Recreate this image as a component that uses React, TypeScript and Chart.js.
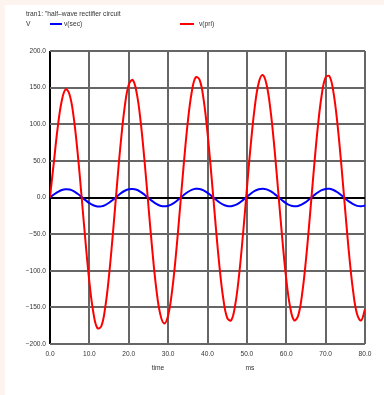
import { useEffect, useRef } from 'react';
import { Chart, registerables } from 'chart.js';

Chart.register(...registerables);

const TITLE = 'tran1: "half\u2013wave rectifier circuit';
const Y_UNIT = 'V';
const X_TITLE = 'time';
const X_UNIT = 'ms';
const SERIES_NAMES = ['v(sec)', 'v(pri)'];

const TIME_MS = [
  0, 1, 2, 3, 4, 5, 6, 7, 8, 9, 10, 11, 12, 13, 14, 15, 16, 17, 18, 19, 20,
  21, 22, 23, 24, 25, 26, 27, 28, 29, 30, 31, 32, 33, 34, 35, 36, 37, 38, 39, 40,
  41, 42, 43, 44, 45, 46, 47, 48, 49, 50, 51, 52, 53, 54, 55, 56, 57, 58, 59, 60,
  61, 62, 63, 64, 65, 66, 67, 68, 69, 70, 71, 72, 73, 74, 75, 76, 77, 78, 79, 80,
];

const V_PRI = [
  0, 49.3, 97.3, 132.5, 147.8, 140.0, 110.0, 62.0, 2.7, -59.3, -115.2,
  -156.7, -178.2, -176.1, -150.9, -106.1, -47.5, 16.3, 76.5, 124.6, 153.9,
  160.3, 143.1, 104.6, 50.5, -11.6, -72.9, -124.6, -159.2, -172.0, -161.0,
  -127.8, -77.1, -15.8, 47.2, 103.1, 144.0, 164.1, 160.7, 134.2, 88.4,
  29.8, -33.3, -91.9, -137.8, -164.3, -167.8, -147.8, -106.9, -51.2, 11.7,
  72.8, 123.4, 156.4, 167.2, 154.2, 119.3, 67.3, 5.8, -56.7, -111.2,
  -150.0, -167.7, -161.7, -132.9, -85.3, -25.7, 37.5, 95.3, 139.6, 164.1,
  165.3, 143.1, 100.6, 43.8, -19.2, -79.5, -128.6, -159.5, -167.9, -152.5,
];

const V_SEC = [
  0, 4.1, 7.7, 10.3, 11.4, 10.8, 8.6, 5.1, 0.9, -3.6, -7.6,
  -10.6, -12.2, -12.1, -10.3, -7.2, -3.0, 1.5, 5.8, 9.2, 11.3,
  11.7, 10.5, 7.7, 3.8, -0.6, -5.0, -8.7, -11.2, -12.1, -11.3,
  -9.0, -5.4, -1.0, 3.5, 7.5, 10.4, 11.8, 11.6, 9.7, 6.4,
  2.2, -2.3, -6.5, -9.8, -11.7, -11.9, -10.5, -7.6, -3.6, 0.9,
  5.2, 8.9, 11.2, 12.0, 11.1, 8.6, 4.9, 0.5, -4.0, -7.9,
  -10.7, -12.0, -11.5, -9.5, -6.1, -1.8, 2.7, 6.8, 10.0, 11.7,
  11.8, 10.2, 7.2, 3.1, -1.4, -5.7, -9.2, -11.4, -12.0, -10.9,
];

const X_TICKS = [0, 10, 20, 30, 40, 50, 60, 70, 80];
const Y_TICKS = [-200, -150, -100, -50, 0, 50, 100, 150, 200];

const FONT = '"Liberation Sans", Arial, Helvetica, sans-serif';
const PAGE_BG = 'rgb(253,244,240)';
const GRID = '#666666';
const TEXT = '#333333';

const fmt = (v: number) => {
  const s = Math.abs(v).toFixed(1);
  return v < 0 ? '\u2212' + s : s;
};

export default function App() {
  const ref = useRef<HTMLCanvasElement>(null);

  useEffect(() => {
    document.body.style.margin = '0';
    document.body.style.background = PAGE_BG;
    const canvas = ref.current;
    if (!canvas) return;
    const gridColor = (ctx: any) => (ctx.tick && ctx.tick.value === 0 ? '#000000' : GRID);
    const chart = new Chart(canvas, {
      type: 'line',
      data: {
        datasets: [
          {
            label: SERIES_NAMES[0],
            data: TIME_MS.map((t, i) => ({ x: t, y: V_SEC[i] })),
            borderColor: '#0000ff',
            borderWidth: 2,
            pointRadius: 0,
            tension: 0.4,
            fill: false,
            order: 1,
          },
          {
            label: SERIES_NAMES[1],
            data: TIME_MS.map((t, i) => ({ x: t, y: V_PRI[i] })),
            borderColor: '#ff0000',
            borderWidth: 2,
            pointRadius: 0,
            tension: 0.4,
            fill: false,
            order: 0,
          },
        ],
      },
      options: {
        responsive: false,
        animation: false,
        events: [],
        layout: { padding: { left: 0, top: 51, right: 19, bottom: 0 } },
        plugins: {
          legend: { display: false },
          title: { display: false },
          tooltip: { enabled: false },
        },
        scales: {
          x: {
            type: 'linear',
            min: 0,
            max: 80,
            afterBuildTicks: (s: any) => {
              s.ticks = X_TICKS.map((v) => ({ value: v }));
            },
            afterFit: (s: any) => {
              s.height = 51;
            },
            grid: { color: gridColor, lineWidth: 2, drawTicks: false },
            border: { display: false },
            ticks: {
              padding: 6,
              maxRotation: 0,
              autoSkip: false,
              color: TEXT,
              font: { family: FONT, size: 6.6 },
              callback: (v: any) => fmt(Number(v)),
            },
          },
          y: {
            type: 'linear',
            min: -200,
            max: 200,
            afterBuildTicks: (s: any) => {
              s.ticks = Y_TICKS.map((v) => ({ value: v }));
            },
            afterFit: (s: any) => {
              s.width = 50;
            },
            grid: { color: gridColor, lineWidth: 2, drawTicks: false },
            border: { display: false },
            ticks: {
              padding: 4,
              autoSkip: false,
              color: TEXT,
              font: { family: FONT, size: 6.6 },
              callback: (v: any) => fmt(Number(v)),
            },
          },
        },
      },
    } as any);
    return () => chart.destroy();
  }, []);

  const txt = (extra: any) => ({
    position: 'absolute' as const,
    fontFamily: FONT,
    fontSize: '6.7px',
    lineHeight: 1,
    color: TEXT,
    whiteSpace: 'nowrap' as const,
    ...extra,
  });

  return (
    <div style={{ position: 'relative', width: 384, height: 395, background: PAGE_BG, overflow: 'hidden' }}>
      <div style={{ position: 'absolute', left: 5, top: 5, right: 0, bottom: 0, background: '#ffffff' }} />
      <canvas ref={ref} width={384} height={395} style={{ position: 'absolute', left: 0, top: 0 }} />
      <span style={txt({ left: 26, top: 14, transform: 'translateY(-50%)' })}>{TITLE}</span>
      <span style={txt({ left: 26, top: 23.5, transform: 'translateY(-50%)' })}>{Y_UNIT}</span>
      <div style={{ position: 'absolute', left: 50, top: 22.5, width: 12, height: 2, background: '#0000ff' }} />
      <span style={txt({ left: 64, top: 23.5, transform: 'translateY(-50%)' })}>{SERIES_NAMES[0]}</span>
      <div style={{ position: 'absolute', left: 180, top: 22.5, width: 14, height: 2, background: '#ff0000' }} />
      <span style={txt({ left: 199, top: 23.5, transform: 'translateY(-50%)' })}>{SERIES_NAMES[1]}</span>
      <span style={txt({ left: 158, top: 367.5, transform: 'translate(-50%,-50%)' })}>{X_TITLE}</span>
      <span style={txt({ left: 250, top: 367.5, transform: 'translate(-50%,-50%)' })}>{X_UNIT}</span>
    </div>
  );
}
